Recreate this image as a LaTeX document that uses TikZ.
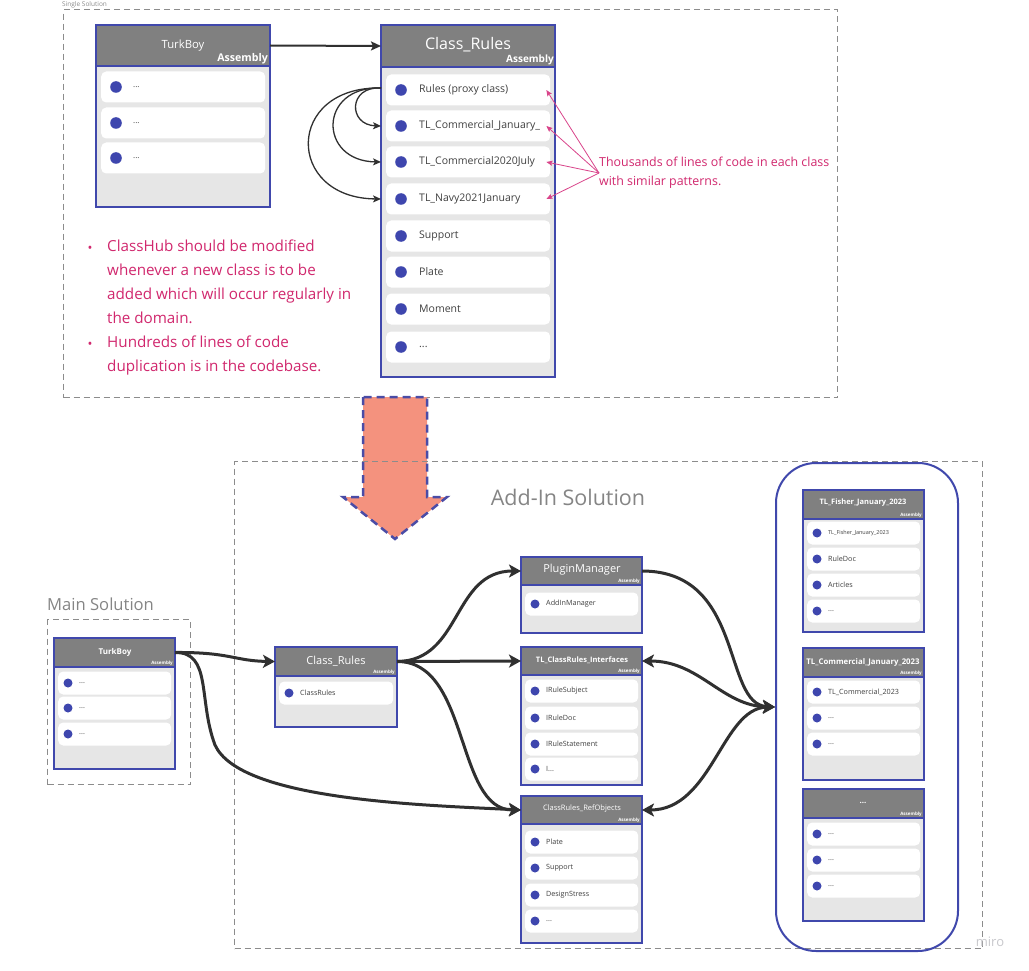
\documentclass[tikz,border=0pt]{standalone}
\usepackage{fontspec}
\setmainfont{Open Sans}
\usetikzlibrary{arrows.meta,calc}
\definecolor{cblue}{HTML}{4048AC}
\definecolor{cbullet}{HTML}{3E46AE}
\definecolor{cgray}{HTML}{808080}
\definecolor{cbody}{HTML}{E6E6E6}
\definecolor{ctext}{HTML}{404040}
\definecolor{cdash}{HTML}{8C8C8C}
\definecolor{cline}{HTML}{303030}
\definecolor{cpink}{HTML}{D1286E}
\definecolor{cpinkarr}{HTML}{D9448A}
\definecolor{csalmon}{HTML}{F4927E}
\definecolor{carrdash}{HTML}{4A4CA6}
\definecolor{clabel}{HTML}{858585}
\definecolor{cmiro}{HTML}{C8C8CC}

\newcommand\fs[1]{\fontsize{#1}{#1}\selectfont}
\newcommand\fsl[2]{\fontsize{#1}{#2}\selectfont}
\def\itH{31}\def\itR{5}\def\itB{15}\def\itT{33}\def\itF{\fs{10}}
\newcommand\clsbox[6]{%
  \node[boxbody, minimum width=#4pt, minimum height=#5pt] (#1) at (#2,#3) {};
  \node[boxhead, minimum width=#4pt, minimum height=#6pt] (#1h) at (#2,#3) {};
  \draw[boxsep] (#2,#3+#6) -- ++(#4,0);
  \node[boxframe, minimum width=#4pt, minimum height=#5pt] (#1f) at (#2,#3) {};
}
\newcommand\clsitem[5]{%
  \node[itembox, minimum width=#4pt, minimum height=\itH pt] (#1) at (#2,#3) {};
  \fill[cbullet] (#2+\itB,#3) circle (\itR);
  \node[itemtext, font=\itF] (#1t) at (#2+\itT,#3) {#5};
}

\begin{document}
\begin{tikzpicture}[x=1pt,y=-1pt,
  boxbody/.style={fill=cbody, anchor=north west, inner sep=0, outer sep=0},
  boxhead/.style={fill=cgray, anchor=north west, inner sep=0, outer sep=0},
  boxsep/.style={cblue, line width=1.5pt},
  boxframe/.style={draw=cblue, line width=2pt, anchor=north west, inner sep=0, outer sep=0},
  itembox/.style={fill=white, rounded corners=5pt, anchor=west, inner sep=0},
  itemtext/.style={anchor=west, inner sep=0, text=ctext},
  ttl/.style={text=white, inner sep=0},
  asm/.style={text=white, anchor=east, inner sep=0},
  dbox/.style={draw=cdash, dash pattern=on 6pt off 4pt, line width=1.1pt, anchor=north west, inner sep=0},
  conn/.style={draw=cline, line width=3pt, -{Stealth[length=12pt,width=13pt,inset=3pt]}},
  dconn/.style={draw=cline, line width=3pt, {Stealth[length=12pt,width=13pt,inset=3pt]}-{Stealth[length=12pt,width=13pt,inset=3pt]}},
  topconn/.style={draw=cline, line width=2pt, -{Stealth[length=10pt,width=9pt,inset=2pt]}},
  selfarr/.style={draw=cline, line width=1.3pt, -{Stealth[length=8pt,width=7pt,inset=2pt]}},
  pinkarr/.style={draw=cpinkarr, line width=0.8pt, -{Stealth[length=6pt,width=5pt,inset=1pt]}},
  lbl/.style={inner sep=0, text=clabel}
]
\useasboundingbox (0,0) rectangle (1029,971);
\fill[white] (0,0) rectangle (1029,971);

% ===== Single Solution =====
\node[dbox, minimum width=774pt, minimum height=388pt] (single) at (63,9) {};
\node[lbl, anchor=base west, font=\fs{6.5}, text=cdash] (singlel) at (62,7) {Single Solution};

% TurkBoy (top)
\def\itH{31}\def\itR{5.8}\def\itB{15}\def\itT{32}\def\itF{\fs{8}}
\clsbox{tb}{96}{25}{174}{182}{41}
\node[ttl, font=\fs{11.3}] (tbn) at (183,46) {TurkBoy};
\node[asm, font=\bfseries\fs{10.6}] (tba) at (268,59) {Assembly};
\clsitem{tb1}{101}{87}{164}{...}
\clsitem{tb2}{101}{123}{164}{...}
\clsitem{tb3}{101}{158}{164}{...}

% Class_Rules (top)
\def\itF{\fs{10.5}}\def\itT{33}
\clsbox{cr}{381}{25}{174}{352}{42}
\node[ttl, font=\fs{16}] (crn) at (468,45) {Class\_Rules};
\node[asm, font=\bfseries\fs{10}] (cra) at (554,60) {Assembly};
\clsitem{cr1}{386}{90}{164}{Rules (proxy class)}
\clsitem{cr2}{386}{126}{164}{TL\_Commercial\_January\_}
\clsitem{cr3}{386}{162}{164}{TL\_Commercial2020July}
\clsitem{cr4}{386}{199}{164}{TL\_Navy2021January}
\clsitem{cr5}{386}{236}{164}{Support}
\clsitem{cr6}{386}{272}{164}{Plate}
\clsitem{cr7}{386}{309}{164}{Moment}
\clsitem{cr8}{386}{347}{164}{...}

% top connectors
\draw[topconn] (tbh.east) -- (crh.west);
\coordinate (sa) at ($(cr.west |- cr1.west)+(0,-2)$);
\draw[selfarr] (sa) .. controls (348,86) and (348,125) .. (cr.west |- cr2.west);
\draw[selfarr] (sa) .. controls (318,86) and (318,161) .. (cr.west |- cr3.west);
\draw[selfarr] (sa) .. controls (285,86) and (285,198) .. (cr.west |- cr4.west);

% note
\node[anchor=west, align=left, inner sep=0, text=cpink, font={\fsl{12.4}{19}}] (note) at (599,173) {Thousands of lines of code in each class\\with similar patterns.};
\draw[pinkarr] (note.west) -- ($(cr1.east)+(-4,0)$);
\draw[pinkarr] (note.west) -- ($(cr2.east)+(-4,0)$);
\draw[pinkarr] (note.west) -- ($(cr3.east)+(-4,0)$);
\draw[pinkarr] (note.west) -- ($(cr4.east)+(-4,0)$);

% bullets
\node[inner sep=0, text=cpink, font=\fs{13}] (b1) at (90,249) {•};
\node[inner sep=0, text=cpink, font=\fs{13}] (b2) at (90,345) {•};
\node[anchor=north west, align=left, inner sep=0, text=cpink, font={\fsl{15.2}{24}}] (bt1) at (107,240) {ClassHub should be modified\\whenever a new class is to be\\added which will occur regularly in\\the domain.};
\node[anchor=north west, align=left, inner sep=0, text=cpink, font={\fsl{15.2}{24}}] (bt2) at (107,336) {Hundreds of lines of code\\duplication is in the codebase.};

% big arrow
\draw[fill=csalmon, draw=carrdash, line width=2.5pt, dash pattern=on 8pt off 5pt]
  (363,397) -- (363,497) -- (343,497) -- (395,539) -- (447,497) -- (427,497) -- (427,397) -- cycle;

% ===== Add-In Solution =====
\node[dbox, minimum width=748pt, minimum height=487pt] (addin) at (234,461) {};
\node[lbl, font=\fs{21.5}] (addinl) at (568,497) {Add-In Solution};

% right container
\node[draw=cblue, line width=2pt, rounded corners=40pt, minimum width=182pt, minimum height=488pt, anchor=north west, inner sep=0] (rc) at (775,462) {};
\coordinate (hub) at (rc.west);

% Main Solution
\node[dbox, minimum width=143pt, minimum height=165pt] (mainsol) at (47,619) {};
\node[lbl, anchor=west, font=\fs{16.6}] (mainl) at (47,604) {Main Solution};

% small item parameters
\def\itH{23}\def\itR{4.5}\def\itB{10}\def\itT{21}\def\itF{\fs{7.2}}

% TurkBoy (bottom)
\clsbox{tbb}{54}{638}{121}{131}{29}
\node[ttl, font=\bfseries\fs{8}] (tbbn) at (115,652) {TurkBoy};
\node[asm, font=\bfseries\fs{4.5}] (tbba) at (173,663) {Assembly};
\clsitem{tbb1}{58}{683}{113}{...}
\clsitem{tbb2}{58}{708}{113}{...}
\clsitem{tbb3}{58}{734}{113}{...}

% Class_Rules (bottom)
\clsbox{crb}{275}{647}{122}{80}{29}
\node[ttl, font=\fs{11}] (crbn) at (336,661) {Class\_Rules};
\node[asm, font=\bfseries\fs{4.5}] (crba) at (395,672) {Assembly};
\clsitem{crb1}{279}{693}{114}{ClassRules}

% PluginManager
\clsbox{pm}{521}{557}{121}{76}{28}
\node[ttl, font=\fs{11}] (pmn) at (582,570) {PluginManager};
\node[asm, font=\bfseries\fs{4.5}] (pma) at (640,581) {Assembly};
\clsitem{pm1}{525}{604}{113}{AddInManager}

% TL_ClassRules_Interfaces
\clsbox{ti}{521}{647}{121}{138}{28}
\node[ttl, font=\bfseries\fs{7.5}] (tin) at (582,660) {TL\_ClassRules\_Interfaces};
\node[asm, font=\bfseries\fs{4.5}] (tia) at (640,671) {Assembly};
\clsitem{ti1}{525}{691}{113}{IRuleSubject}
\clsitem{ti2}{525}{718}{113}{IRuleDoc}
\clsitem{ti3}{525}{744}{113}{IRuleStatement}
\clsitem{ti4}{525}{769}{113}{I...}

% ClassRules_RefObjects
\clsbox{rf}{521}{796}{121}{147}{28}
\node[ttl, font=\fs{7.5}] (rfn) at (582,809) {ClassRules\_RefObjects};
\node[asm, font=\bfseries\fs{4.5}] (rfa) at (640,820) {Assembly};
\clsitem{rf1}{525}{842}{113}{Plate}
\clsitem{rf2}{525}{868}{113}{Support}
\clsitem{rf3}{525}{895}{113}{DesignStress}
\clsitem{rf4}{525}{921}{113}{...}

% TL_Fisher_January_2023
\clsbox{fi}{803}{490}{121}{142}{29}
\node[ttl, font=\bfseries\fs{7.5}] (fin) at (863,503) {TL\_Fisher\_January\_2023};
\node[asm, font=\bfseries\fs{4.5}] (fia) at (922,515) {Assembly};
\def\itF{\fs{5.5}}
\clsitem{fi1}{807}{533}{113}{TL\_Fisher\_January\_2023}
\def\itF{\fs{7.2}}
\clsitem{fi2}{807}{559}{113}{RuleDoc}
\clsitem{fi3}{807}{585}{113}{Articles}
\clsitem{fi4}{807}{611}{113}{...}

% TL_Commercial_January_2023
\clsbox{co}{803}{648}{121}{132}{29}
\node[ttl, font=\bfseries\fs{7.8}] (con) at (863,662) {TL\_Commercial\_January\_2023};
\node[asm, font=\bfseries\fs{4.5}] (coa) at (922,673) {Assembly};
\clsitem{co1}{807}{692}{113}{TL\_Commercial\_2023}
\clsitem{co2}{807}{718}{113}{...}
\clsitem{co3}{807}{744}{113}{...}

% ... box
\clsbox{dt}{803}{789}{121}{132}{29}
\node[ttl, font=\bfseries\fs{8}] (dtn) at (863,803) {...};
\node[asm, font=\bfseries\fs{4.5}] (dta) at (922,814) {Assembly};
\clsitem{dt1}{807}{834}{113}{...}
\clsitem{dt2}{807}{860}{113}{...}
\clsitem{dt3}{807}{886}{113}{...}

% bottom connectors
\draw[conn] (tbbh.east) .. controls (230,652) and (235,661) .. (crbh.west);
\draw[conn] (tbbh.east) .. controls (212,652) and (198,700) .. (215,745) .. controls (240,800) and (420,805) .. (rfh.west);
\draw[conn] (crbh.east) .. controls (462,661) and (452,571) .. (pmh.west);
\draw[conn] (crbh.east) -- (tih.west);
\draw[conn] (crbh.east) .. controls (470,661) and (455,810) .. (rfh.west);
\draw[conn] (pmh.east) .. controls (745,571) and (722,704) .. (hub);
\draw[dconn] (tih.east) .. controls (700,661) and (722,706) .. (hub);
\draw[dconn] (rfh.east) .. controls (712,810) and (722,708) .. (hub);

% watermark
\node[inner sep=0, text=cmiro, font=\fs{13}] (miro) at (990,942) {miro};
\end{tikzpicture}
\end{document}
